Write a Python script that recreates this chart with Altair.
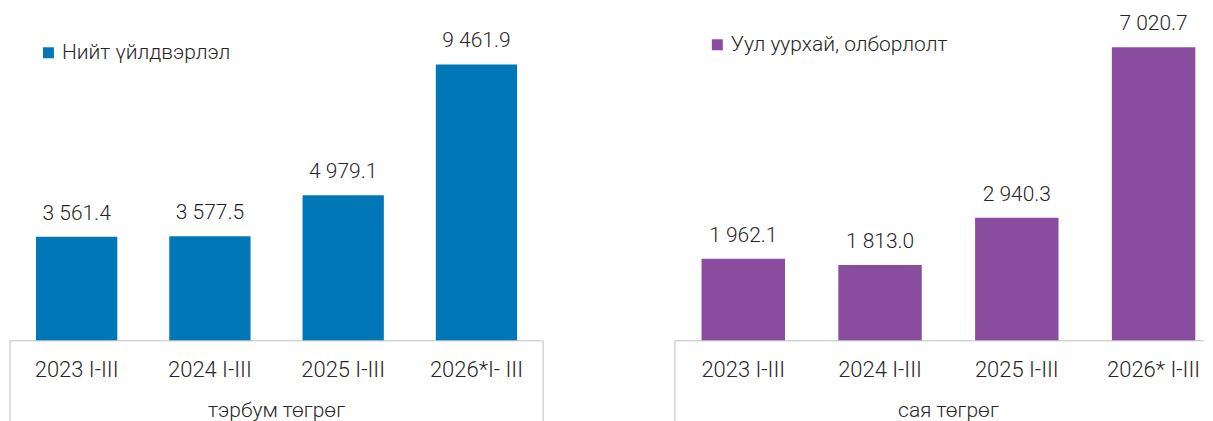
import altair as alt
import pandas as pd

# ---- data ----
categories_left = ["2023 I-III", "2024 I-III", "2025 I-III", "2026*I- III"]
values_left = [3561.4, 3577.5, 4979.1, 9461.9]
series_left = "Нийт үйлдвэрлэл"
unit_left = "тэрбум төгрөг"

categories_right = ["2023 I-III", "2024 I-III", "2025 I-III", "2026* I-III"]
values_right = [1962.1, 1813.0, 2940.3, 7020.7]
series_right = "Уул уурхай, олборлолт"
unit_right = "сая төгрөг"

FONT = "Roboto"
WEIGHT = 300
TXT = "#262626"
GRID = "#BFBFBF"
H = 333


def fmt(v):
    return f"{v:,.1f}".replace(",", " ")


def panel(cats, vals, series, unit, color, width, span, ymax, lx, ly, right_line):
    df = pd.DataFrame({"cat": cats, "val": vals, "series": [series] * len(cats),
                       "label": [fmt(v) for v in vals]})
    base = alt.Chart(df)
    xscale = alt.Scale(paddingInner=0.39, paddingOuter=0.195, range=[0, span])
    x = alt.X("cat:N", sort=cats, scale=xscale, axis=None)
    y = alt.Y("val:Q", scale=alt.Scale(domain=[0, ymax], nice=False), axis=None)
    bars = base.mark_bar().encode(
        x=x, y=y,
        color=alt.Color("series:N", scale=alt.Scale(range=[color]),
                        legend=alt.Legend(title=None, orient="none", legendX=lx, legendY=ly,
                                          symbolType="square", symbolSize=121,
                                          symbolStrokeWidth=0, labelFont=FONT,
                                          labelFontSize=21, labelFontWeight=WEIGHT,
                                          labelColor=TXT, labelOffset=3, labelLimit=0)))
    text = base.mark_text(dy=-17, baseline="alphabetic", font=FONT, fontSize=21,
                          fontWeight=WEIGHT, color=TXT).encode(
        x=x, y=y, text="label:N")
    catlab = base.mark_text(baseline="alphabetic", font=FONT, fontSize=22,
                            fontWeight=WEIGHT, color=TXT).encode(
        x=x, y=alt.value(H + 36), text="cat:N")
    one = alt.Chart(pd.DataFrame({"unit": [unit]}))
    unitlab = one.mark_text(baseline="alphabetic", font=FONT, fontSize=21,
                            fontWeight=WEIGHT, color=TXT).encode(
        x=alt.value(span / 2), y=alt.value(H + 76), text="unit:N")
    layers = [bars, text, catlab, unitlab,
              one.mark_rule(color=GRID, strokeWidth=1).encode(
                  x=alt.value(0), x2=alt.value(width), y=alt.value(H)),
              one.mark_rule(color=GRID, strokeWidth=1).encode(
                  x=alt.value(0), y=alt.value(H), y2=alt.value(H + 82))]
    if right_line:
        layers.append(one.mark_rule(color=GRID, strokeWidth=1).encode(
            x=alt.value(width), y=alt.value(H), y2=alt.value(H + 82)))
    return alt.layer(*layers).properties(width=width, height=H)


left = panel(categories_left, values_left, series_left, unit_left, "#0077B6",
             534, 534, 11380, 28, 34, True)
right = panel(categories_right, values_right, series_right, unit_right, "#894C9E",
              530, 548, 7950, 32, 26, False)

chart = alt.hconcat(left, right, spacing=130).resolve_scale(
    color="independent").properties(
    padding={"left": 1, "top": 0, "right": 0, "bottom": 0}
).configure_view(stroke=None)

chart.save("out.html", embed_options={"renderer": "svg", "actions": False})
